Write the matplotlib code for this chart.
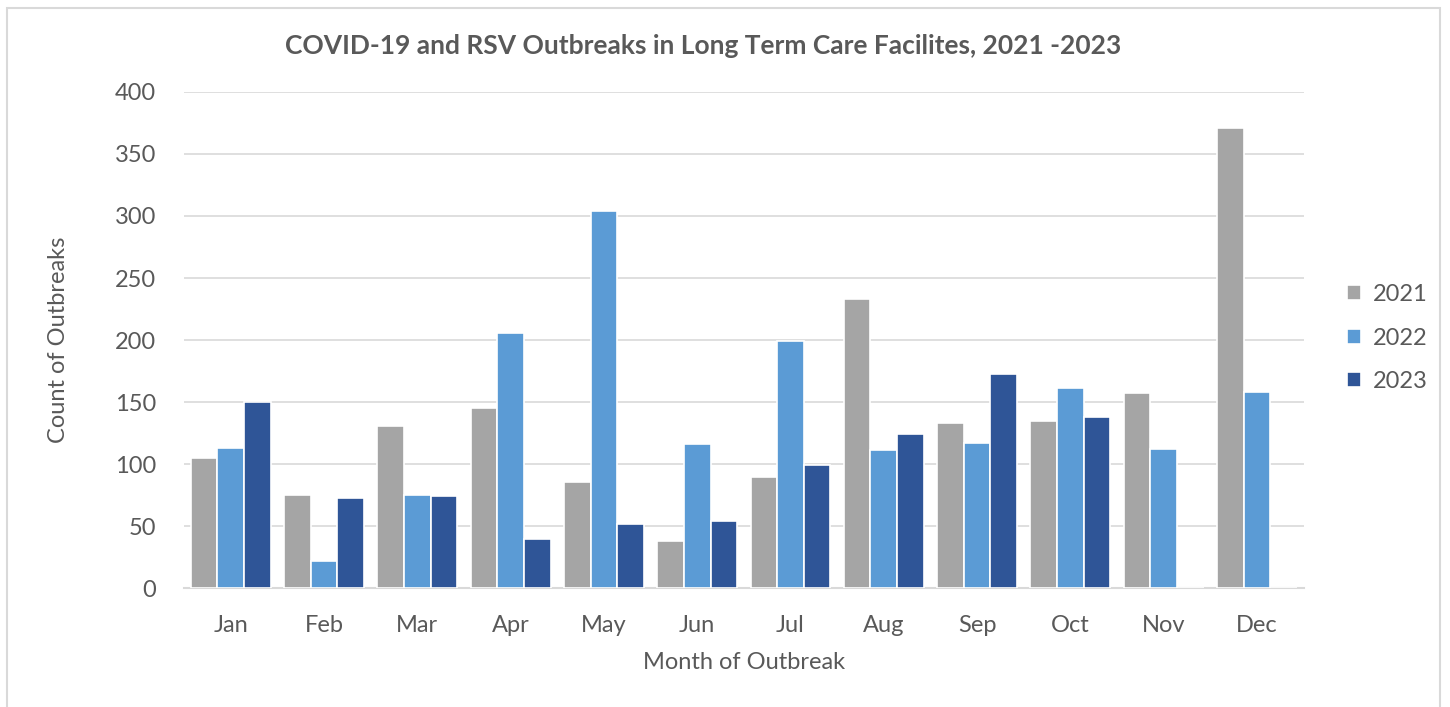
import numpy as np
import matplotlib.pyplot as plt
from matplotlib.patches import Rectangle

months = ['Jan', 'Feb', 'Mar', 'Apr', 'May', 'Jun', 'Jul', 'Aug', 'Sep', 'Oct', 'Nov', 'Dec']
y2021 = [105, 75, 131, 145, 86, 38, 90, 233, 133, 135, 157, 371]
y2022 = [113, 22, 75, 206, 304, 116, 199, 111, 117, 161, 112, 158]
y2023 = [150, 73, 74, 40, 52, 54, 99, 124, 173, 138, 0, 0]
series_names = ['2021', '2022', '2023']
colors = ['#A5A5A5', '#5B9BD5', '#2F5597']
txt = '#595959'

plt.rcParams['font.family'] = ['Lato', 'DejaVu Sans']

fig = plt.figure(figsize=(14.5, 7.07), dpi=100)
# light outer border like the spreadsheet chart area
fig.patches.append(Rectangle((7 / 1450, -0.01), 1433 / 1450, 1 - 8 / 707 + 0.01,
                             transform=fig.transFigure, fill=False,
                             edgecolor='#D9D9D9', linewidth=1.5))

ax = fig.add_axes([0.127, 0.168, 0.772, 0.702])
x = np.arange(len(months))
w = 0.285
for i, (vals, name) in enumerate(zip([y2021, y2022, y2023], series_names)):
    ax.bar(x + (i - 1) * w, vals, width=w, color=colors[i], label=name,
           edgecolor='white', linewidth=1.2, zorder=3)

ax.set_xlim(-0.5, len(months) - 0.5)
ax.set_ylim(0, 400)
ax.set_yticks(range(0, 401, 50))
ax.set_xticks(x)
ax.set_xticklabels(months)
ax.grid(axis='y', color='#D9D9D9', linewidth=1.2, zorder=0)
for s in ['top', 'right', 'left']:
    ax.spines[s].set_visible(False)
ax.spines['bottom'].set_color('#D9D9D9')
ax.spines['bottom'].set_linewidth(1.5)
ax.tick_params(axis='both', length=0, labelsize=17, colors=txt)
ax.tick_params(axis='x', pad=19)
ax.tick_params(axis='y', pad=20)

ax.set_xlabel('Month of Outbreak', fontsize=17, color=txt, labelpad=12)
ax.set_ylabel('Count of Outbreaks', fontsize=17, color=txt, labelpad=33)
fig.text(0.485, 0.935, 'COVID-19 and RSV Outbreaks in Long Term Care Facilites, 2021 -2023',
         ha='center', va='center', fontsize=19, fontweight='bold', color=txt)

leg = ax.legend(loc='center left', bbox_to_anchor=(1.02, 0.504), frameon=False,
                fontsize=17, labelcolor=txt, handlelength=0.6, handleheight=0.6,
                handletextpad=0.5, labelspacing=0.95)

fig.savefig('out.png', dpi=100)
